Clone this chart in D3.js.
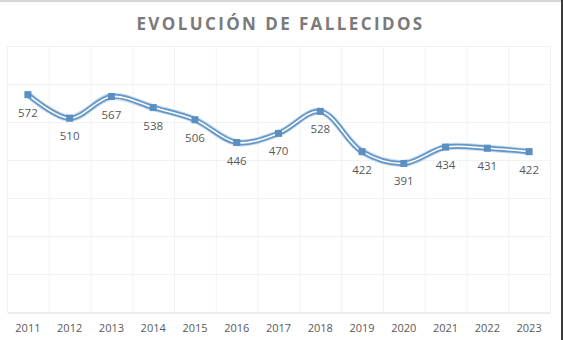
<!DOCTYPE html>
<html lang="es">
<head>
<meta charset="UTF-8">
<title>Evolución de fallecidos</title>
<script src="https://cdn.jsdelivr.net/npm/d3@7"></script>
<style>
  * { margin: 0; padding: 0; }
  body { background: #fff; width: 563px; height: 340px; overflow: hidden; }
  text { font-family: 'Open Sans', 'Liberation Sans', sans-serif; }
</style>
</head>
<body>
<svg id="chart" width="563" height="340"></svg>
<script>
const years = ['2011','2012','2013','2014','2015','2016','2017','2018','2019','2020','2021','2022','2023'];
const deaths = [572, 510, 567, 538, 506, 446, 470, 528, 422, 391, 434, 431, 422];
const yTicks = [0, 100, 200, 300, 400, 500, 600, 700];

const svg = d3.select('#chart');
const W = 563, H = 340;
const plot = { left: 7, right: 550, top: 46, bottom: 312 };

// marco de la captura
svg.append('rect').attr('x', 0).attr('y', 0).attr('width', W).attr('height', 2).attr('fill', '#d6d6d6');
svg.append('rect').attr('x', 561).attr('y', 0).attr('width', 2).attr('height', H).attr('fill', '#3a3a3a');

const x = d3.scaleBand().domain(years).range([plot.left, plot.right]);
const y = d3.scaleLinear().domain([0, 700]).range([plot.bottom, plot.top]);

// rejilla
const grid = svg.append('g');
grid.selectAll('.h').data(yTicks.slice(1)).join('line')
  .attr('x1', plot.left).attr('x2', plot.right)
  .attr('y1', d => y(d) + 0.5).attr('y2', d => y(d) + 0.5)
  .attr('stroke', '#f2f2f2');
grid.selectAll('.v').data(years.concat(['end'])).join('line')
  .attr('x1', (d, i) => i < years.length ? x(d) + 0.5 : plot.right + 0.5)
  .attr('x2', (d, i) => i < years.length ? x(d) + 0.5 : plot.right + 0.5)
  .attr('y1', plot.top).attr('y2', plot.bottom)
  .attr('stroke', '#f2f2f2');

// eje X
const xAxis = svg.append('g')
  .attr('transform', `translate(0,${plot.bottom + 0.5})`)
  .call(d3.axisBottom(x).tickSize(0).tickPadding(12));
xAxis.select('.domain').attr('stroke', '#d9d9d9');
xAxis.selectAll('text').attr('fill', '#595959').attr('font-size', 11);

// línea suavizada doble
const cx = d => x(d) + x.bandwidth() / 2;
const line = d3.line()
  .x((d, i) => cx(years[i]))
  .y(d => y(d))
  .curve(d3.curveCatmullRom.alpha(0.5));

svg.append('path').datum(deaths).attr('d', line)
  .attr('fill', 'none').attr('stroke', '#c4d9ec').attr('stroke-width', 7);
svg.append('path').datum(deaths).attr('d', line)
  .attr('fill', 'none').attr('stroke', '#6496c6').attr('stroke-width', 5);
svg.append('path').datum(deaths).attr('d', line)
  .attr('fill', 'none').attr('stroke', '#ffffff').attr('stroke-width', 1.6);

// marcadores
svg.selectAll('.m').data(deaths).join('rect')
  .attr('x', (d, i) => cx(years[i]) - 3.5)
  .attr('y', d => y(d) - 3.5)
  .attr('width', 7).attr('height', 7)
  .attr('fill', '#5b8fc1');

// etiquetas de datos
svg.selectAll('.lbl').data(deaths).join('text')
  .attr('x', (d, i) => cx(years[i]))
  .attr('y', d => y(d) + 22)
  .attr('text-anchor', 'middle')
  .attr('font-size', 11.5)
  .attr('fill', '#595959')
  .text(d => d);

// título
svg.append('text')
  .attr('x', (plot.left + plot.right) / 2 + 2)
  .attr('y', 30)
  .attr('text-anchor', 'middle')
  .attr('font-size', 17)
  .attr('font-weight', 'bold')
  .attr('letter-spacing', 2.4)
  .attr('fill', '#7a7a7a')
  .text('EVOLUCIÓN DE FALLECIDOS');
</script>
</body>
</html>
